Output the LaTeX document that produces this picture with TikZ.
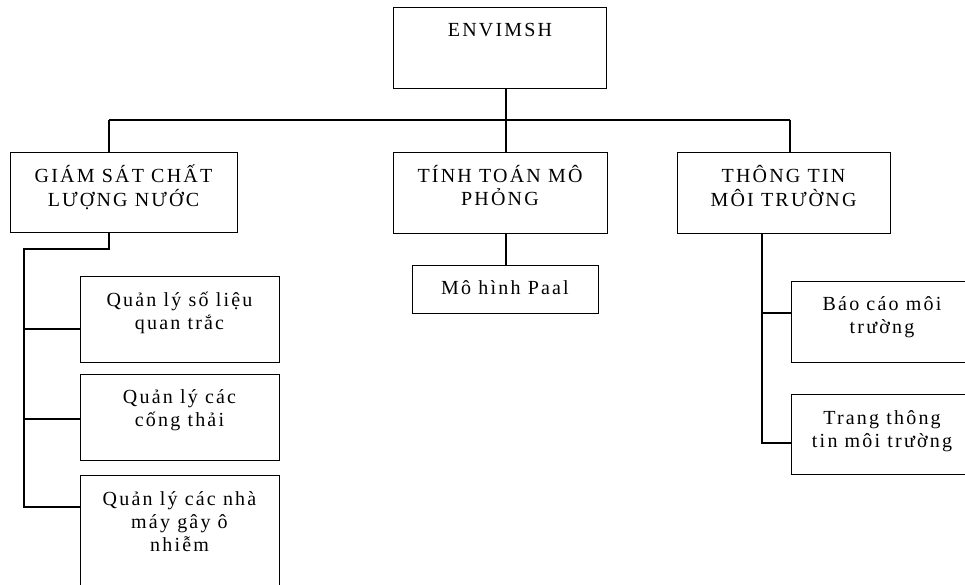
\documentclass[tikz,border=0pt]{standalone}
\usepackage{fontspec}
\setmainfont{Liberation Serif}[LetterSpace=11]
\usetikzlibrary{calc}

% text block whose baseline is that of its first line
\newcommand{\boxlines}[1]{\begin{tabular}[t]{@{}c@{}}#1\end{tabular}}

\begin{document}
\begin{tikzpicture}[x=1pt,y=-1pt,
  frame/.style={draw, line width=1.2pt, inner sep=0pt, anchor=north west},
  label text/.style={inner sep=0pt, anchor=base,
    font=\fontsize{20}{23}\selectfont},
  link/.style={line width=1.2pt}]

\useasboundingbox (0,0) rectangle (965,584);
\clip (0,0) rectangle (965,584);

% boxes
\node[frame, minimum width=213pt, minimum height=81pt] (env)   at (393,7)   {};
\node[frame, minimum width=227pt, minimum height=80pt] (giam)  at (10,152)  {};
\node[frame, minimum width=214pt, minimum height=81pt] (tinh)  at (393,152) {};
\node[frame, minimum width=213pt, minimum height=81pt] (thong) at (677,152) {};
\node[frame, minimum width=186pt, minimum height=48pt] (paal)  at (412,265) {};
\node[frame, minimum width=199pt, minimum height=86pt] (q1)    at (80,276)  {};
\node[frame, minimum width=199pt, minimum height=86pt] (q2)    at (80,374)  {};
\node[frame, minimum width=199pt, minimum height=140pt] (q3)   at (80,475)  {};
\node[frame, minimum width=182pt, minimum height=81pt] (bao)   at (791,281) {};
\node[frame, minimum width=182pt, minimum height=80pt] (trang) at (791,394) {};

% texts
\node[label text] (env-t)   at (500,36)   {ENVIMSH};
\node[label text] (giam-t)  at (123.5,182) {\boxlines{GIÁM SÁT CHẤT\\LƯỢNG NƯỚC}};
\node[label text] (tinh-t)  at (500,182)  {\boxlines{TÍNH TOÁN MÔ\\PHỎNG}};
\node[label text] (thong-t) at (783.5,182) {\boxlines{THÔNG TIN\\MÔI TRƯỜNG}};
\node[label text] (paal-t)  at (505,294)  {Mô hình Paal};
\node[label text] (q1-t)    at (179.5,306) {\boxlines{Quản lý số liệu\\quan trắc}};
\node[label text] (q2-t)    at (179.5,403) {\boxlines{Quản lý các\\cống thải}};
\node[label text] (q3-t)    at (179.5,505) {\boxlines{Quản lý các nhà\\máy gây ô\\nhiễm}};
\node[label text] (bao-t)   at (882,310)  {\boxlines{Báo cáo môi\\trường}};
\node[label text] (trang-t) at (882,424)  {\boxlines{Trang thông\\tin môi trường}};

% junction points of the tree
\coordinate (busM) at (506,120);
\coordinate (busL) at (109,120);
\coordinate (busR) at (790,120);
\coordinate (gdrop) at (109,249);
\coordinate (gspine) at (24,249);
\coordinate (tspine) at (762,0);

% where the side branches meet their boxes
\coordinate (q1-in)    at ([yshift=-53pt]q1.north west);
\coordinate (q2-in)    at ([yshift=-45pt]q2.north west);
\coordinate (q3-in)    at ([yshift=-32pt]q3.north west);
\coordinate (bao-in)   at ([yshift=-32pt]bao.north west);
\coordinate (trang-in) at ([yshift=-49pt]trang.north west);

% connectors
\draw[link] (busL) -- (busR);
\draw[link] (env.south -| busM) -- (tinh.north -| busM);
\draw[link] (busL) -- (giam.north -| busL);
\draw[link] (busR) -- (thong.north -| busR);
\draw[link] (tinh.south -| busM) -- (paal.north -| busM);

\draw[link] (giam.south -| gdrop) -- (gdrop) -- (gspine) |- (q3-in);
\draw[link] (gspine |- q1-in) -- (q1-in);
\draw[link] (gspine |- q2-in) -- (q2-in);

\draw[link] (thong.south -| tspine) |- (trang-in);
\draw[link] (tspine |- bao-in) -- (bao-in);

\end{tikzpicture}
\end{document}
